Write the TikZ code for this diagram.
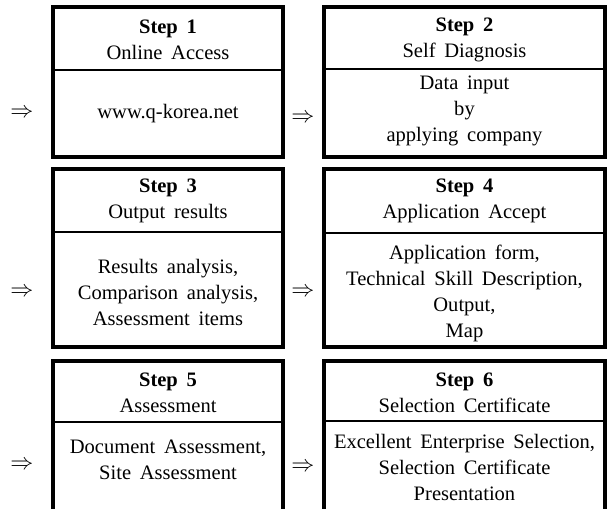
\documentclass[tikz,border=0pt]{standalone}
\usepackage{fontspec}
\setmainfont[WordSpace=1.7]{Liberation Serif}
\begin{document}
\begin{tikzpicture}[x=0.75pt,y=-0.75pt,
  txt/.style={font=\fontsize{15.4}{19.5}\selectfont, align=center, inner sep=0pt},
  arr/.style={font=\fontsize{17}{20}\selectfont, inner sep=0pt},
  frame/.style={draw=black, line width=2.3pt},
  divider/.style={draw=black, line width=0.8pt}]
\useasboundingbox (0,0) rectangle (608,508);
% Row 1
\draw[frame] (53,7) rectangle (283,157);
\draw[divider] (53,70) -- (283,70);
\node[txt] (h1) at (168,40) {\textbf{Step 1}\\Online Access};
\node[txt] (b1) at (168,113.5) {www.q-korea.net};
\draw[frame] (324,7) rectangle (605,157);
\draw[divider] (324,69) -- (605,69);
\node[txt] (h2) at (464.5,40) {\textbf{Step 2}\\Self Diagnosis};
\node[txt] (b2) at (464.5,111) {Data input\\by\\applying company};
% Row 2
\draw[frame] (53,169) rectangle (283,347);
\draw[divider] (53,232) -- (283,232);
\node[txt] (h3) at (168,201) {\textbf{Step 3}\\Output results};
\node[txt] (b3) at (168,292) {Results analysis,\\Comparison analysis,\\Assessment items};
\draw[frame] (324,169) rectangle (605,347);
\draw[divider] (324,233) -- (605,233);
\node[txt] (h4) at (464.5,201) {\textbf{Step 4}\\Application Accept};
\node[txt] (b4) at (464.5,293.5) {Application form,\\Technical Skill Description,\\Output,\\Map};
% Row 3
\draw[frame] (53,361) rectangle (283,512);
\draw[divider] (53,422) -- (283,422);
\node[txt] (h5) at (168,393) {\textbf{Step 5}\\Assessment};
\node[txt] (b5) at (168,460) {Document Assessment,\\Site Assessment};
\draw[frame] (324,361) rectangle (605,512);
\draw[divider] (324,421) -- (605,421);
\node[txt] (h6) at (464.5,393) {\textbf{Step 6}\\Selection Certificate};
\node[txt] (b6) at (464.5,467) {Excellent Enterprise Selection,\\Selection Certificate\\Presentation};
% Arrows
\node[arr] (a1) at (22,113) {$\Rightarrow$};
\node[arr] (a2) at (303,118) {$\Rightarrow$};
\node[arr] (a3) at (22,292) {$\Rightarrow$};
\node[arr] (a4) at (303,292) {$\Rightarrow$};
\node[arr] (a5) at (22,465) {$\Rightarrow$};
\node[arr] (a6) at (303,467) {$\Rightarrow$};
\end{tikzpicture}
\end{document}
